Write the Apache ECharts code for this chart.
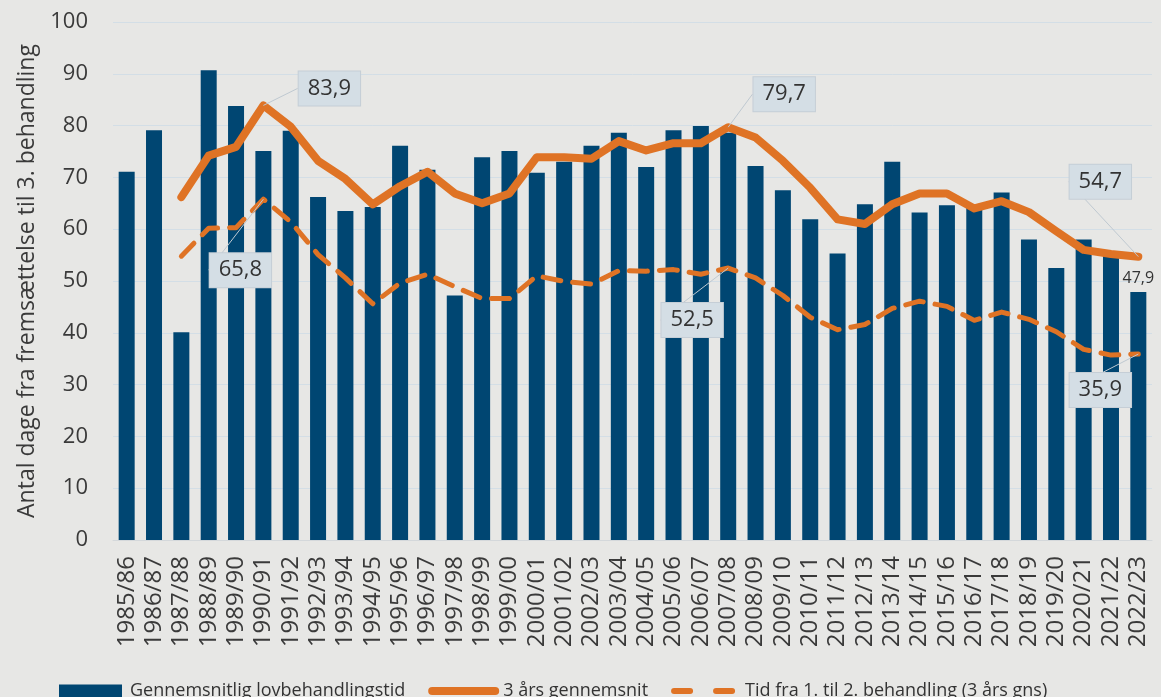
<!DOCTYPE html>
<html>
<head>
<meta charset="utf-8">
<script src="https://cdn.jsdelivr.net/npm/echarts@6/dist/echarts.min.js"></script>
<style>
html,body{margin:0;padding:0;background:#E7E7E5;}
#c{width:1161px;height:697px;}
</style>
</head>
<body>
<div id="c"></div>
<script>
const categories = ['1985/86','1986/87','1987/88','1988/89','1989/90','1990/91','1991/92','1992/93','1993/94','1994/95','1995/96','1996/97','1997/98','1998/99','1999/00','2000/01','2001/02','2002/03','2003/04','2004/05','2005/06','2006/07','2007/08','2008/09','2009/10','2010/11','2011/12','2012/13','2013/14','2014/15','2015/16','2016/17','2017/18','2018/19','2019/20','2020/21','2021/22','2022/23'];
const lovbehandlingstid = [71.1,79.1,40.1,90.7,83.8,75.1,79.0,66.2,63.5,64.3,76.1,71.5,47.2,73.9,75.1,70.9,73.0,76.1,78.6,72.0,79.1,79.9,78.6,72.2,67.5,61.9,55.3,64.8,73.0,63.2,64.6,64.2,67.1,58.0,52.5,58.0,55.0,47.9];
const gennemsnit3 = [null,null,66.2,74.2,75.9,83.9,79.8,73.2,69.7,64.8,68.3,71.1,66.9,65.0,66.9,73.9,73.9,73.6,77.0,75.2,76.6,76.6,79.7,77.7,73.2,68.0,61.9,61.0,64.8,66.9,66.9,64.0,65.4,63.3,59.6,56.0,55.2,54.7];
const tid1til2 = [null,null,54.8,60.2,60.3,65.8,61.4,55.1,50.6,45.6,49.6,51.3,48.9,46.6,46.6,51.0,49.9,49.4,52.0,51.9,52.2,51.3,52.5,50.6,47.2,43.0,40.6,41.6,44.7,46.1,45.1,42.4,44.0,42.6,40.2,36.8,35.7,35.9];
const yTicks = [0,10,20,30,40,50,60,70,80,90,100];
const seriesNames = ['Gennemsnitlig lovbehandlingstid','3 års gennemsnit','Tid fra 1. til 2. behandling (3 års gns)'];

// label callouts: index -> offset from point
const solidCallouts = {5:[66,-17], 22:[56,-33], 37:[-38,-75]};
const dashCallouts = {5:[-23,71], 22:[-36,52], 37:[-38,36]};
const barLabelIdx = [37];

const ORANGE = '#DF7325';
const NAVY = '#004672';
const FONT = '"Open Sans", sans-serif';
const fmt = v => String(v).replace('.', ',');

const calloutLabel = {
  show: true, position: 'inside', formatter: p => fmt(p.value),
  fontFamily: FONT, fontSize: 22, color: '#333333',
  backgroundColor: '#D4DEE5', borderColor: '#C5CED6', borderWidth: 1,
  padding: [7, 9, 5, 9]
};

function lineData(arr, callouts) {
  return arr.map((v, i) => callouts[i] ? {value: v, label: calloutLabel} : v);
}

const chart = echarts.init(document.getElementById('c'), null, {renderer: 'canvas'});
chart.setOption({
  backgroundColor: '#E7E7E5',
  animation: false,
  grid: {left: 113, right: 9, top: 22, bottom: 157, containLabel: false},
  legend: {
    left: 59, top: 682, padding: 0, itemWidth: 63, itemHeight: 13, itemGap: 23,
    textStyle: {fontFamily: FONT, fontSize: 18, color: '#333333', padding: [0,0,0,3]},
    lineStyle: {width: 'inherit'},
    data: [
      {name: seriesNames[0], icon: 'rect'},
      {name: seriesNames[1], itemStyle: {opacity: 0}},
      {name: seriesNames[2], itemStyle: {opacity: 0}, lineStyle: {type: [16, 26], width: 6, cap: 'round'}}
    ]
  },
  xAxis: {
    type: 'category', data: categories, boundaryGap: true,
    axisTick: {show: false},
    axisLine: {lineStyle: {color: '#D4D8DB', width: 1}},
    axisLabel: {rotate: 90, interval: 0, margin: 16, fontFamily: FONT, fontSize: 24, color: '#3A3A3A'}
  },
  yAxis: {
    type: 'value', min: yTicks[0], max: yTicks[yTicks.length-1], interval: 10,
    name: 'Antal dage fra fremsættelse til 3. behandling',
    nameLocation: 'middle', nameGap: 74, nameRotate: 90,
    nameTextStyle: {fontFamily: FONT, fontSize: 23, color: '#3A3A3A'},
    axisLine: {show: false}, axisTick: {show: false},
    axisLabel: {margin: 25, fontFamily: FONT, fontSize: 22, color: '#3A3A3A'},
    splitLine: {lineStyle: {color: '#D3DEE6', width: 1}}
  },
  series: [
    {
      name: seriesNames[0], type: 'bar', barWidth: 16,
      itemStyle: {color: NAVY},
      data: lovbehandlingstid.map((v, i) => barLabelIdx.includes(i) ? {value: v, label: {show: true, position: 'top', distance: 5, formatter: p => fmt(p.value), fontFamily: FONT, fontSize: 16, color: '#333333'}} : v),
      z: 1
    },
    {
      name: seriesNames[1], type: 'line', data: lineData(gennemsnit3, solidCallouts),
      showSymbol: true, symbol: 'circle', symbolSize: 0,
      itemStyle: {color: ORANGE},
      lineStyle: {color: ORANGE, width: 8, cap: 'round', join: 'round'},
      labelLine: {show: true, lineStyle: {color: '#BFC9D1', width: 1}},
      labelLayout: p => { const o = solidCallouts[p.dataIndex]; return o ? {dx: o[0], dy: o[1]} : {}; },
      z: 3
    },
    {
      name: seriesNames[2], type: 'line', data: lineData(tid1til2, dashCallouts),
      showSymbol: true, symbol: 'circle', symbolSize: 0,
      itemStyle: {color: ORANGE},
      lineStyle: {color: ORANGE, width: 5, type: [18, 12], cap: 'round', join: 'round'},
      labelLine: {show: true, lineStyle: {color: '#BFC9D1', width: 1}},
      labelLayout: p => { const o = dashCallouts[p.dataIndex]; return o ? {dx: o[0], dy: o[1]} : {}; },
      z: 2
    }
  ]
});
</script>
</body>
</html>
